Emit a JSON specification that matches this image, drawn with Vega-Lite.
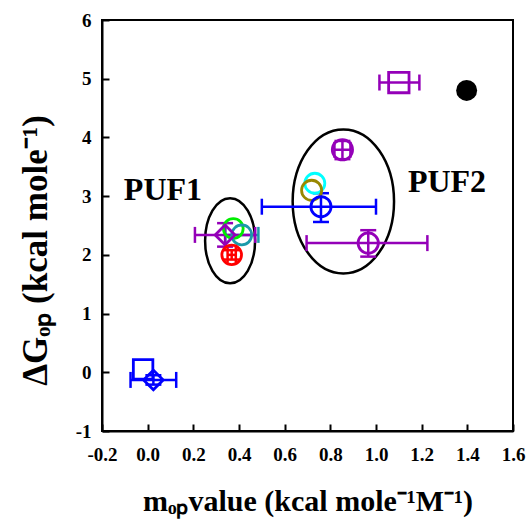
{
  "$schema": "https://vega.github.io/schema/vega-lite/v6.json",
  "width": 411,
  "height": 411,
  "autosize": {"type": "none"},
  "padding": {"left": 102, "top": 20, "right": 13, "bottom": 88},
  "background": "white",
  "config": {
    "view": {"stroke": "black", "strokeWidth": 2},
    "font": "Liberation Serif",
    "axis": {
      "grid": false,
      "domainColor": "black",
      "domainWidth": 2,
      "tickColor": "black",
      "tickWidth": 2,
      "tickSize": -7,
      "labelFont": "Liberation Serif",
      "labelFontWeight": "bold",
      "labelFontSize": 19,
      "labelColor": "black",
      "labelFlush": false,
      "labelOverlap": false,
      "titleFont": "Liberation Serif",
      "titleFontWeight": "bold",
      "titleColor": "black"
    }
  },
  "datasets": {
    "pts": [
      {"series": "P1", "x": -0.02, "y": 0.05, "xlo": null, "xhi": null, "ylo": null, "yhi": null},
      {"series": "P2", "x": 0.025, "y": -0.13, "xlo": -0.075, "xhi": 0.125, "ylo": -0.21, "yhi": -0.05},
      {"series": "P4", "x": 0.375, "y": 2.45, "xlo": null, "xhi": null, "ylo": null, "yhi": null},
      {"series": "P5", "x": 0.412, "y": 2.34, "xlo": 0.34, "xhi": 0.485, "ylo": null, "yhi": null},
      {"series": "P6", "x": 0.339, "y": 2.34, "xlo": 0.207, "xhi": 0.471, "ylo": 2.14, "yhi": 2.54},
      {"series": "P3", "x": 0.368, "y": 2.0, "xlo": 0.35, "xhi": 0.386, "ylo": 1.92, "yhi": 2.08},
      {"series": "P7", "x": 0.732, "y": 3.22, "xlo": null, "xhi": null, "ylo": null, "yhi": null},
      {"series": "P8", "x": 0.718, "y": 3.1, "xlo": null, "xhi": null, "ylo": null, "yhi": null},
      {"series": "P9", "x": 0.759, "y": 2.82, "xlo": 0.5, "xhi": 1.0, "ylo": 2.56, "yhi": 3.05},
      {"series": "P10", "x": 0.853, "y": 3.79, "xlo": 0.818, "xhi": 0.888, "ylo": 3.63, "yhi": 3.94},
      {"series": "P11", "x": 0.966, "y": 2.2, "xlo": 0.696, "xhi": 1.225, "ylo": 1.97, "yhi": 2.42},
      {"series": "P12", "x": 1.1, "y": 4.935, "xlo": 1.015, "xhi": 1.19, "ylo": null, "yhi": null},
      {"series": "P13", "x": 1.397, "y": 4.8, "xlo": null, "xhi": null, "ylo": null, "yhi": null}
    ],
    "ellipses": [
      {"group": "PUF1", "cx": 0.361, "cy": 2.24},
      {"group": "PUF2", "cx": 0.857, "cy": 2.91}
    ],
    "labels": [
      {"label": "PUF1", "x": 0.067, "y": 2.93},
      {"label": "PUF2", "x": 1.311, "y": 3.075}
    ]
  },
  "layer": [
    {
      "data": {"name": "ellipses"},
      "transform": [{"filter": "datum.group == 'PUF1'"}],
      "mark": {
        "type": "point",
        "filled": false,
        "color": "black",
        "opacity": 1,
        "strokeWidth": 2.5,
        "size": 7225,
        "shape": "M0,-1C0.3248,-1,0.588,-0.5523,0.588,0C0.588,0.5523,0.3248,1,0,1C-0.3248,1,-0.588,0.5523,-0.588,0C-0.588,-0.5523,-0.3248,-1,0,-1Z"
      },
      "encoding": {
        "x": {
          "field": "cx",
          "type": "quantitative",
          "scale": {"domain": [-0.2, 1.6], "nice": false, "zero": false},
          "axis": {
            "values": [-0.2, 0, 0.2, 0.4, 0.6, 0.8, 1.0, 1.2, 1.4, 1.6],
            "labelExpr": "replace(format(datum.value, '.1f'), '−', '-')",
            "labelPadding": 21,
            "titlePadding": 22,
            "titleFontSize": 30,
            "title": "mₒₚvalue (kcal mole⁻¹M⁻¹)"
          }
        },
        "y": {
          "field": "cy",
          "type": "quantitative",
          "scale": {"domain": [-1, 6], "nice": false, "zero": false},
          "axis": {
            "values": [-1, 0, 1, 2, 3, 4, 5, 6],
            "labelExpr": "replace(format(datum.value, 'd'), '−', '-')",
            "labelPadding": 18,
            "titlePadding": 22,
            "titleFontSize": 35,
            "titleY": 230,
            "title": "ΔGₒₚ (kcal mole⁻¹)"
          }
        }
      }
    },
    {
      "data": {"name": "ellipses"},
      "transform": [{"filter": "datum.group == 'PUF2'"}],
      "mark": {
        "type": "point",
        "filled": false,
        "color": "black",
        "opacity": 1,
        "strokeWidth": 2.5,
        "size": 20736,
        "shape": "M0,-1C0.3888,-1,0.704,-0.5523,0.704,0C0.704,0.5523,0.3888,1,0,1C-0.3888,1,-0.704,0.5523,-0.704,0C-0.704,-0.5523,-0.3888,-1,0,-1Z"
      },
      "encoding": {
        "x": {"field": "cx", "type": "quantitative"},
        "y": {"field": "cy", "type": "quantitative"}
      }
    },
    {
      "data": {"name": "labels"},
      "mark": {
        "type": "text",
        "font": "Liberation Serif",
        "fontWeight": "bold",
        "fontSize": 32,
        "color": "black",
        "align": "center",
        "baseline": "alphabetic"
      },
      "encoding": {
        "x": {"field": "x", "type": "quantitative"},
        "y": {"field": "y", "type": "quantitative"},
        "text": {"field": "label"}
      }
    },
    {
      "data": {"name": "pts"},
      "transform": [{"filter": "datum.xlo != null"}],
      "mark": {"type": "rule", "strokeWidth": 2.5, "opacity": 1},
      "encoding": {
        "x": {"field": "xlo", "type": "quantitative"},
        "x2": {"field": "xhi"},
        "y": {"field": "y", "type": "quantitative"},
        "color": {"field": "series", "type": "nominal", "legend": null,
          "scale": {"domain": ["P1","P2","P3","P4","P5","P6","P7","P8","P9","P10","P11","P12","P13"],
                    "range": ["#0000FF","#0000FF","#FF0000","#00EE00","#1B9AAA","#9400B8","#00FFFF","#998800","#0000FF","#9400B8","#9400B8","#9400B8","#000000"]}}
      }
    },
    {
      "data": {"name": "pts"},
      "transform": [{"filter": "datum.xlo != null"}],
      "mark": {"type": "tick", "orient": "vertical", "thickness": 2.5, "size": 16, "opacity": 1},
      "encoding": {
        "x": {"field": "xlo", "type": "quantitative"},
        "y": {"field": "y", "type": "quantitative"},
        "color": {"field": "series", "type": "nominal", "legend": null}
      }
    },
    {
      "data": {"name": "pts"},
      "transform": [{"filter": "datum.xhi != null"}],
      "mark": {"type": "tick", "orient": "vertical", "thickness": 2.5, "size": 16, "opacity": 1},
      "encoding": {
        "x": {"field": "xhi", "type": "quantitative"},
        "y": {"field": "y", "type": "quantitative"},
        "color": {"field": "series", "type": "nominal", "legend": null}
      }
    },
    {
      "data": {"name": "pts"},
      "transform": [{"filter": "datum.ylo != null"}],
      "mark": {"type": "rule", "strokeWidth": 2.5, "opacity": 1},
      "encoding": {
        "x": {"field": "x", "type": "quantitative"},
        "y": {"field": "ylo", "type": "quantitative"},
        "y2": {"field": "yhi"},
        "color": {"field": "series", "type": "nominal", "legend": null}
      }
    },
    {
      "data": {"name": "pts"},
      "transform": [{"filter": "datum.ylo != null"}],
      "mark": {"type": "tick", "orient": "horizontal", "thickness": 2.5, "size": 16, "opacity": 1},
      "encoding": {
        "x": {"field": "x", "type": "quantitative"},
        "y": {"field": "ylo", "type": "quantitative"},
        "color": {"field": "series", "type": "nominal", "legend": null}
      }
    },
    {
      "data": {"name": "pts"},
      "transform": [{"filter": "datum.yhi != null"}],
      "mark": {"type": "tick", "orient": "horizontal", "thickness": 2.5, "size": 16, "opacity": 1},
      "encoding": {
        "x": {"field": "x", "type": "quantitative"},
        "y": {"field": "yhi", "type": "quantitative"},
        "color": {"field": "series", "type": "nominal", "legend": null}
      }
    },
    {
      "data": {"name": "pts"},
      "transform": [{"filter": "datum.series != 'P13'"}],
      "mark": {"type": "point", "filled": false, "strokeWidth": 2.8, "opacity": 1},
      "encoding": {
        "x": {"field": "x", "type": "quantitative"},
        "y": {"field": "y", "type": "quantitative"},
        "color": {"field": "series", "type": "nominal", "legend": null},
        "shape": {"field": "series", "type": "nominal", "legend": null,
          "scale": {"domain": ["P1","P2","P3","P4","P5","P6","P7","P8","P9","P10","P11","P12","P13"],
                    "range": ["square","diamond","circle","circle","circle","diamond","circle","circle","circle","circle","circle","square","circle"]}},
        "size": {"field": "series", "type": "nominal", "legend": null,
          "scale": {"domain": ["P1","P2","P3","P4","P5","P6","P7","P8","P9","P10","P11","P12","P13"],
                    "range": [380, 420, 420, 420, 420, 560, 420, 420, 420, 420, 420, 380, 440]}}
      }
    },
    {
      "data": {"name": "pts"},
      "transform": [{"filter": "datum.series == 'P13'"}],
      "mark": {"type": "point", "filled": true, "shape": "circle", "size": 440, "opacity": 1},
      "encoding": {
        "x": {"field": "x", "type": "quantitative"},
        "y": {"field": "y", "type": "quantitative"},
        "color": {"field": "series", "type": "nominal", "legend": null}
      }
    }
  ]
}
